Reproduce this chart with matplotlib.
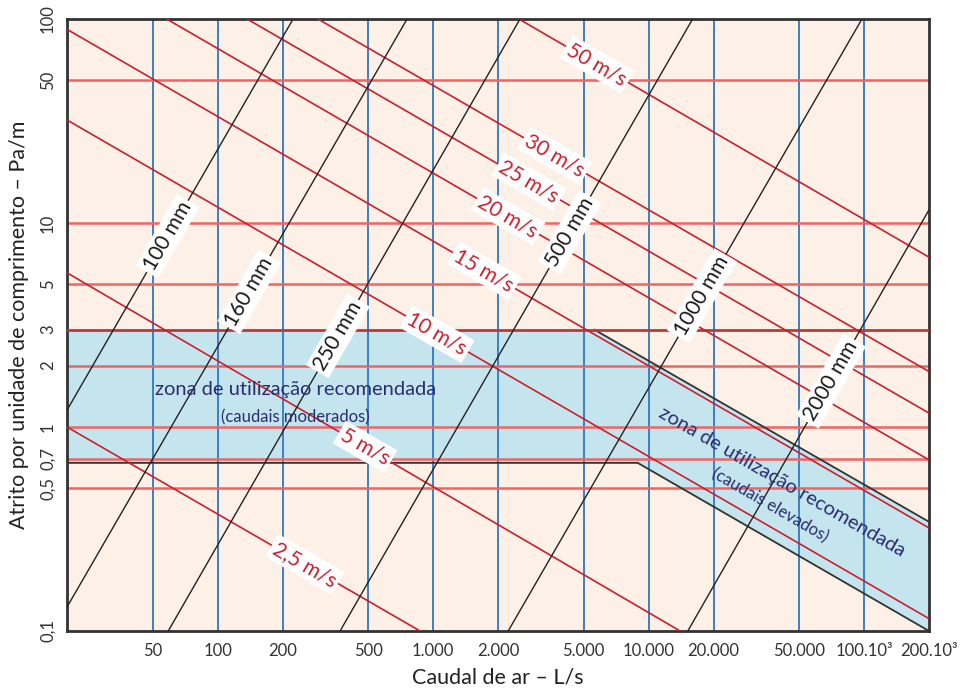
import numpy as np
import matplotlib.pyplot as plt

plt.rcParams['font.family'] = ['Lato', 'DejaVu Sans']

# axis ticks
x_ticks = [50, 100, 200, 500, 1000, 2000, 5000, 10000, 20000, 50000, 100000, 200000]
x_labels = ['50', '100', '200', '500', '1.000', '2.000', '5.000', '10.000',
            '20.000', '50.000', '100.10³', '200.10³']
y_ticks = [0.1, 0.5, 0.7, 1, 2, 3, 5, 10, 50, 100]
y_labels = ['0,1', '0,5', '0,7', '1', '2', '3', '5', '10', '50', '100']
red_grid = [0.5, 0.7, 1, 2, 5, 10, 50]

# velocity lines (caudal L/s, atrito Pa/m) start / end
vel_names = ['2,5 m/s', '5 m/s', '10 m/s', '15 m/s', '20 m/s', '25 m/s', '30 m/s', '50 m/s']
vel_q0 = [20, 20, 20, 20, 58, 137, 292, 2500]
vel_r0 = [1.0, 5.7, 32, 89, 100, 100, 100, 100]
vel_q1 = [870, 14000, 2e5, 2e5, 2e5, 2e5, 2e5, 2e5]
vel_r1 = [0.1, 0.1, 0.115, 0.32, 0.69, 1.17, 1.87, 6.8]
vel_label_q = [254, 483, 1042, 1722, 2226, 2786, 3678, 5757]

# duct diameter lines
dia_names = ['100 mm', '160 mm', '250 mm', '500 mm', '1000 mm', '2000 mm']
dia_q0 = [20, 20, 59, 370, 2230, 15200]
dia_r0 = [1.21, 0.131, 0.1, 0.1, 0.1, 0.1]
dia_q1 = [224, 757, 2530, 16000, 97700, 2e5]
dia_r1 = [100, 100, 100, 100, 100, 11.6]
dia_label_r = [8.6, 4.6, 2.8, 9.0, 4.4, 1.68]

# recommended zone outline
zone_q = [20, 5600, 2e5, 2e5, 8900, 20]
zone_r = [3, 3, 0.343, 0.1, 0.667, 0.667]


def point_on(q0, r0, q1, r1, q=None, r=None):
    # position along a straight line in log-log space
    lq0, lq1, lr0, lr1 = np.log10([q0, q1, r0, r1])
    if q is not None:
        t = (np.log10(q) - lq0) / (lq1 - lq0)
    else:
        t = (np.log10(r) - lr0) / (lr1 - lr0)
    return 10 ** (lq0 + t * (lq1 - lq0)), 10 ** (lr0 + t * (lr1 - lr0))


fig = plt.figure(figsize=(9.73, 6.89), dpi=100)
ax = fig.add_axes([67 / 973, 1 - 631 / 689, 862 / 973, 612 / 689])
ax.set_xscale('log')
ax.set_yscale('log')
ax.set_xlim(20, 2e5)
ax.set_ylim(0.1, 100)
ax.set_facecolor('#fdf0e7')

# zone
ax.fill(zone_q, zone_r, color='#c5e5ee', zorder=1, lw=0)
ax.plot(zone_q[1:3], zone_r[1:3], color='#333333', lw=1.3, zorder=3)
ax.plot(zone_q[3:], zone_r[3:], color='#333333', lw=1.3, zorder=3)

# grid
for x in x_ticks[:-1]:
    ax.axvline(x, color='#3d7fc0', lw=1.4, zorder=2)
for y in red_grid:
    ax.axhline(y, color='#f06464', lw=1.8, zorder=2)
ax.axhline(3, color='#b83a3a', lw=2.0, zorder=3)

# velocity lines
for i, name in enumerate(vel_names):
    ax.plot([vel_q0[i], vel_q1[i]], [vel_r0[i], vel_r1[i]], color='#c8202f', lw=1.2, zorder=3)
    px, py = point_on(vel_q0[i], vel_r0[i], vel_q1[i], vel_r1[i], q=vel_label_q[i])
    ax.text(px, py, name, color='#c8202f', fontsize=15, rotation=-30,
            rotation_mode='anchor', ha='center', va='center', zorder=5,
            bbox=dict(boxstyle='square,pad=0.15', fc='white', ec='none'))

# diameter lines
for i, name in enumerate(dia_names):
    ax.plot([dia_q0[i], dia_q1[i]], [dia_r0[i], dia_r1[i]], color='#222222', lw=1.0, zorder=3)
    px, py = point_on(dia_q0[i], dia_r0[i], dia_q1[i], dia_r1[i], r=dia_label_r[i])
    ax.text(px, py, name, color='#1a1a1a', fontsize=15, rotation=60,
            rotation_mode='anchor', ha='center', va='center', zorder=5,
            bbox=dict(boxstyle='square,pad=0.15', fc='white', ec='none'))

# zone texts
navy = '#2b2d6e'
ax.text(229, 1.52, 'zona de utilização recomendada', color=navy, fontsize=14.5,
        ha='center', va='center', zorder=4)
ax.text(229, 1.11, '(caudais moderados)', color=navy, fontsize=12,
        ha='center', va='center', zorder=4)
ax.text(41600, 0.537, 'zona de utilização recomendada', color=navy, fontsize=14.5,
        rotation=-30, rotation_mode='anchor', ha='center', va='center', zorder=4)
ax.text(36600, 0.415, '(caudais elevados)', color=navy, fontsize=12,
        rotation=-30, rotation_mode='anchor', ha='center', va='center', zorder=4)

# axes
ax.set_xticks(x_ticks)
ax.set_xticklabels(x_labels)
ax.set_yticks(y_ticks)
ax.set_yticklabels(y_labels, rotation=90, va='center')
ax.minorticks_off()
ax.tick_params(axis='both', length=0, labelsize=12, colors='#333333')
ax.tick_params(axis='x', pad=9)
ax.tick_params(axis='y', pad=8)
for s in ax.spines.values():
    s.set_color('#333333')
    s.set_linewidth(2)

ax.set_xlabel('Caudal de ar – L/s', fontsize=15.5, color='#222222', labelpad=6)
ax.set_ylabel('Atrito por unidade de comprimento – Pa/m', fontsize=15.5,
              color='#222222', labelpad=8)

fig.savefig('out.png', dpi=100)
